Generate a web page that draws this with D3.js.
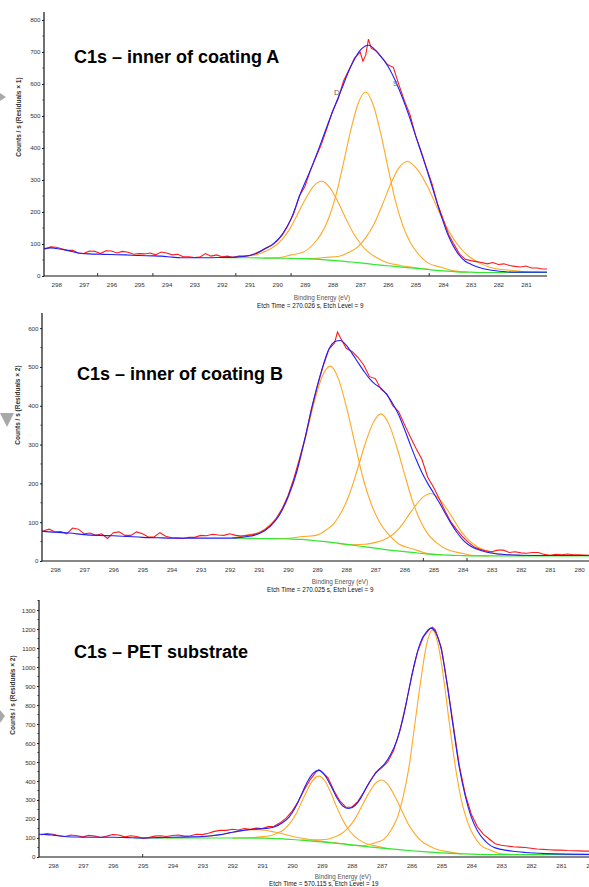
<!DOCTYPE html>
<html>
<head>
<meta charset="utf-8">
<script src="https://cdn.jsdelivr.net/npm/d3@7"></script>
<style>
  body { margin: 0; background: #fff; }
  svg { display: block; }
  text { font-family: "Liberation Sans", Arial, sans-serif; }
</style>
</head>
<body>
<svg id="chart" width="589" height="887"></svg>
<script>
// ---------- data (binding energy eV, counts/s) ----------
const ticksA = [298, 297, 296, 295, 294, 293, 292, 291, 290, 289, 288, 287, 286, 285, 284, 283, 282, 281];
const ticksB = [298, 297, 296, 295, 294, 293, 292, 291, 290, 289, 288, 287, 286, 285, 284, 283, 282, 281, 280];
const ticksC = [298, 297, 296, 295, 294, 293, 292, 291, 290, 289, 288, 287, 286, 285, 284, 283, 282, 281, 280];

// coating A
const bgA = [[292,57],[291.5,57],[291,57],[290.5,56],[290,56],[289.5,55],[289,54],[288.5,52],[288,49],[287.5,45],[287,41],[286.5,36],[286,32],[285.5,28],[285,24],[284.5,20],[284,16],[283.5,13],[283,12],[282.5,11],[282,11],[281,11],[280.24,11]];
const peakA1 = [[291.8,57.5],[291.25,62],[290.78,66],[290.4,78],[290.11,92],[289.83,114],[289.54,148],[289.26,194],[288.97,242],[288.69,280],[288.4,296],[288.11,278],[287.83,237],[287.55,185],[287.26,136],[286.98,100],[286.69,74],[286.4,57],[286.03,42],[285.55,33],[285,26],[284.5,20.5]];
const peakA2 = [[290.5,56.3],[290,57],[289.5,66],[289.05,75],[288.69,100],[288.42,130],[288.15,178],[287.88,251],[287.61,351],[287.34,456],[287.07,540],[286.8,575],[286.53,535],[286.26,447],[285.99,337],[285.72,233],[285.45,156],[285.18,104],[284.91,70],[284.55,41],[284.1,28],[283.6,16],[283.1,12.5]];
const peakA3 = [[289.3,54.8],[288.8,53.5],[288.3,58],[287.8,61],[287.4,74],[287.1,90],[286.8,120],[286.5,162],[286.2,222],[285.9,287],[285.6,338],[285.3,358],[284.93,333],[284.55,277],[284.18,207],[283.8,141],[283.43,93],[283.05,60],[282.68,41],[282.18,24],[281.55,18],[281,13],[280.5,11.5]];
const envA = [[298.44,86],[298.2,88],[298,86],[297.6,80],[297.2,72],[296.8,69],[296.4,68],[296,67],[295.5,66],[295,64],[294.5,63],[294.2,62],[293.8,59],[293.5,57],[293,57],[292.5,57],[292,58],[291.5,59],[291,64],[290.72,72],[290.5,82],[290.12,102],[289.8,133],[289.51,177],[289.15,260],[288.79,333],[288.42,416],[288.06,500],[287.7,578],[287.33,656],[286.97,708],[286.7,721],[286.36,697],[286,656],[285.64,593],[285.27,510],[284.91,416],[284.55,322],[284.18,218],[283.82,128],[283.46,70],[283.2,46],[282.98,36],[282.6,24],[282.25,18],[281.8,14],[281.42,12],[280.8,12],[280.24,12]];
const dataA = [[298.4,84],[298.2,91],[298,90],[297.8,85],[297.6,80],[297.4,80],[297.2,72],[297,70],[296.8,78],[296.6,77],[296.4,70],[296.2,79],[296,78],[295.8,72],[295.6,77],[295.4,74],[295.2,68],[295,70],[294.8,69],[294.6,72],[294.4,66],[294.2,75],[294,72],[293.8,66],[293.6,68],[293.4,60],[293.2,60],[293,58],[292.8,59],[292.6,70],[292.4,62],[292.2,66],[292,60],[291.8,62],[291.6,58],[291.4,62],[291.2,62],[291,64],[290.8,70],[290.6,78],[290.4,88],[290.2,96],[290,110],[289.8,130],[289.6,160],[289.4,196],[289.2,250],[289,280],[288.8,330],[288.6,372],[288.4,412],[288.2,462],[288,515],[287.8,553],[287.6,610],[287.4,645],[287.2,682],[287,700],[286.9,671],[286.8,690],[286.7,740],[286.6,712],[286.4,702],[286.2,680],[286,660],[285.8,652],[285.6,598],[285.4,548],[285.2,505],[285,440],[284.8,392],[284.6,338],[284.4,288],[284.2,225],[284,178],[283.8,130],[283.6,98],[283.4,68],[283.2,52],[283,48],[282.8,45],[282.6,42],[282.4,38],[282.2,42],[282,36],[281.8,38],[281.6,33],[281.4,30],[281.2,28],[281,31],[280.8,25],[280.6,25],[280.4,22],[280.24,22]];

// coating B
const bgB = [[291.9,59],[291.65,59],[291,58],[290.5,57.5],[290,57],[289.5,55.5],[289,52],[288.5,48],[288,43],[287.5,38],[287,33],[286.5,28],[286,24],[285.5,20],[285,17],[284.5,15],[284,14],[283,13],[282,13],[279.66,13]];
const peakB1 = [[291.9,60],[291.4,67],[290.93,76],[290.55,98],[290.26,123],[289.98,166],[289.7,229],[289.41,314],[289.12,403],[288.84,473],[288.55,502],[288.26,468],[287.98,393],[287.69,299],[287.41,210],[287.12,143],[286.84,98],[286.55,69],[286.18,43],[285.7,31],[285.2,19],[284.7,16]];
const peakB2 = [[290.5,58],[290,58.5],[289.5,63],[289.05,66],[288.69,80],[288.42,97],[288.15,128],[287.88,174],[287.61,237],[287.34,304],[287.07,357],[286.8,379],[286.53,352],[286.26,293],[285.99,222],[285.72,154],[285.45,103],[285.18,68],[284.91,48],[284.55,30],[284.1,21],[283.6,14],[283.1,13.2]];
const peakB3 = [[288.3,45.5],[287.8,42],[287.35,43],[286.99,48],[286.72,54],[286.45,65],[286.18,84],[285.91,112],[285.64,141],[285.37,164],[285.1,174],[284.83,162],[284.56,136],[284.29,104],[284.02,73],[283.75,51],[283.48,36],[283.21,27],[282.85,19],[282.4,16],[281.9,13.5]];
const envB = [[298.45,77],[298,74],[297.5,72],[297,68],[296.5,66],[296,65],[295.5,63],[295,61],[294.5,60],[294,59],[293.5,59],[293,59],[292.5,59],[292,59],[291.5,62],[291,70],[290.6,90],[290.3,118],[290,165],[289.7,230],[289.4,322],[289.1,420],[288.85,490],[288.6,545],[288.4,565],[288.2,568],[288,556],[287.8,535],[287.6,512],[287.4,490],[287.2,470],[287,455],[286.8,445],[286.6,428],[286.4,405],[286.2,377],[286,340],[285.8,300],[285.6,262],[285.4,228],[285.2,200],[285,175],[284.8,150],[284.6,123],[284.4,97],[284.2,74],[284,55],[283.8,42],[283.5,30],[283.2,23],[282.8,18],[282.4,16],[282,15],[281,14],[279.66,14]];
const dataB = [[298.4,78],[298.2,82],[298,75],[297.8,76],[297.6,70],[297.4,85],[297.2,82],[297,70],[296.8,72],[296.6,66],[296.4,70],[296.2,58],[296,73],[295.8,75],[295.6,66],[295.4,66],[295.2,75],[295,70],[294.8,62],[294.6,62],[294.4,73],[294.2,64],[294,60],[293.8,59],[293.6,58],[293.4,61],[293.2,61],[293,66],[292.8,65],[292.6,69],[292.4,67],[292.2,66],[292,70],[291.8,66],[291.6,64],[291.4,66],[291.2,68],[291,72],[290.8,80],[290.6,92],[290.4,110],[290.2,135],[290,168],[289.8,212],[289.6,265],[289.4,320],[289.2,390],[289,448],[288.8,500],[288.6,545],[288.4,562],[288.3,590],[288.2,575],[288,548],[287.8,540],[287.6,525],[287.4,505],[287.2,475],[287,470],[286.8,442],[286.6,430],[286.4,400],[286.2,385],[286,352],[285.8,320],[285.6,290],[285.4,262],[285.2,216],[285,190],[284.8,160],[284.6,128],[284.4,100],[284.2,80],[284,62],[283.8,48],[283.6,36],[283.4,30],[283.2,26],[283,24],[282.8,28],[282.6,28],[282.4,22],[282.2,24],[282,21],[281.8,20],[281.6,22],[281.4,22],[281.2,17],[281,15],[280.8,17],[280.6,16],[280.4,18],[280.2,16],[280,16],[279.66,15]];

// PET substrate
const bgC = [[295.3,100],[294,100],[293,100],[292,100],[291,99],[290.5,97],[290,92],[289.5,86],[289,80],[288.5,72],[288,64],[287.5,55],[287,47],[286.5,40],[286,33],[285.5,27],[285,22],[284.5,18],[284,15],[283.5,13],[283,12],[282,12],[281,12],[280.06,12]];
const peakC0 = [[294.2,101],[293.7,102],[293.3,104],[293,107],[292.7,111],[292.4,117],[292.1,126],[291.8,135],[291.5,142],[291.2,144],[290.9,141],[290.6,132],[290.3,121],[290,109],[289.7,100],[289.4,92],[289.1,85],[288.7,77],[288.2,68]];
const peakC1 = [[292,100],[291.5,101],[291.05,106],[290.73,112],[290.47,127],[290.27,145],[290.08,176],[289.88,222],[289.69,286],[289.49,352],[289.3,405],[289.1,426],[288.9,400],[288.71,342],[288.52,269],[288.32,200],[288.13,149],[287.93,113],[287.74,89],[287.48,69],[287.15,57],[286.7,42.5]];
const peakC2 = [[289.7,89.5],[289.25,90],[288.88,92],[288.58,105],[288.35,122],[288.13,152],[287.9,198],[287.68,263],[287.45,331],[287.23,384],[287,405],[286.77,377],[286.55,317],[286.32,242],[286.1,171],[285.87,118],[285.65,81],[285.42,59],[285.12,38],[284.75,27],[284.3,16.5]];
const peakC3 = [[288.2,65.5],[287.7,58],[287.25,74],[286.93,93],[286.67,146],[286.47,210],[286.28,318],[286.08,478],[285.89,699],[285.69,930],[285.5,1116],[285.3,1195],[285.1,1111],[284.91,922],[284.72,687],[284.52,462],[284.33,298],[284.13,186],[283.94,118],[283.68,61],[283.35,36],[283,17],[282.6,13]];
const envC = [[298.47,120],[298.2,118],[298,115],[297.6,108],[297.2,105],[296.8,104],[296.4,104],[296,104],[295.5,102],[295,100],[294.5,102],[294,104],[293.5,106],[293,108],[292.7,112],[292.4,118],[292.1,127],[291.8,136],[291.5,143],[291.2,147],[290.9,150],[290.6,158],[290.3,183],[290.1,210],[289.9,258],[289.7,324],[289.5,392],[289.3,440],[289.1,456],[288.9,430],[288.7,375],[288.5,312],[288.3,268],[288.1,255],[287.9,270],[287.7,310],[287.5,370],[287.3,420],[287.1,460],[286.9,490],[286.7,540],[286.5,610],[286.3,720],[286.1,870],[285.9,1020],[285.7,1130],[285.5,1185],[285.35,1205],[285.2,1185],[285,1090],[284.8,900],[284.6,680],[284.4,470],[284.2,320],[284,210],[283.8,140],[283.6,95],[283.4,65],[283.2,48],[283,40],[282.6,30],[282.2,24],[281.5,18],[280.8,15],[280.06,14]];
const dataC = [[298.4,118],[298.2,123],[298,120],[297.8,112],[297.6,108],[297.4,116],[297.2,112],[297,106],[296.8,114],[296.6,110],[296.4,103],[296.2,110],[296,118],[295.8,116],[295.6,106],[295.4,112],[295.2,108],[295,98],[294.8,102],[294.6,110],[294.4,112],[294.2,108],[294,113],[293.8,116],[293.6,110],[293.4,112],[293.2,120],[293,118],[292.8,125],[292.6,135],[292.4,140],[292.2,140],[292,146],[291.8,142],[291.6,150],[291.4,146],[291.2,152],[291,150],[290.8,160],[290.6,162],[290.4,180],[290.2,205],[290,240],[289.8,290],[289.6,352],[289.4,405],[289.2,448],[289.1,460],[289,448],[288.8,418],[288.6,350],[288.4,295],[288.2,262],[288,262],[287.8,292],[287.6,340],[287.4,395],[287.2,445],[287,470],[286.8,500],[286.6,560],[286.4,660],[286.2,795],[286,950],[285.8,1080],[285.6,1160],[285.4,1200],[285.3,1210],[285.2,1195],[285,1100],[284.8,905],[284.6,690],[284.4,480],[284.2,330],[284,225],[283.8,160],[283.6,120],[283.4,95],[283.2,70],[283,62],[282.8,58],[282.6,54],[282.4,52],[282.2,50],[282,46],[281.8,42],[281.6,40],[281.4,38],[281.2,36],[281,36],[280.8,34],[280.6,33],[280.4,32],[280.2,31],[280.06,31]];

// ---------- layout ----------
const panels = [
  {title: "C1s \u2013 inner of coating A", titleX: 74, titleY: 63,
   left: 44, right: 547, top: 12, bottom: 276, xDomain: [298.44, 280.24], yDomain: [0, 825],
   yTicks: d3.range(0, 801, 100), xTicks: ticksA, xMinor: [296.5, 294.5, 291.5, 289.5, 284.5],
   ylabel: "Counts / s  (Residuals \u00d7 1)", ylabelX: 21, ylabelY: 117,
   bx: 322, by: 300, etch: "Etch Time = 270.026 s, Etch Level = 9", ex: 257, ey: 308,
   bg: bgA, peaks: [peakA1, peakA2, peakA3], env: envA, data: dataA},
  {title: "C1s \u2013 inner of coating B", titleX: 77, titleY: 380,
   left: 42, right: 589, top: 313, bottom: 561, xDomain: [298.45, 279.66], yDomain: [0, 639],
   yTicks: d3.range(0, 601, 100), xTicks: ticksB, xMinor: [285.35, 283.85],
   ylabel: "Counts / s  (Residuals \u00d7 2)", ylabelX: 20, ylabelY: 405,
   bx: 340, by: 584, etch: "Etch Time = 270.025 s, Etch Level = 9", ex: 267, ey: 592,
   bg: bgB, peaks: [peakB1, peakB2, peakB3], env: envB, data: dataB},
  {title: "C1s \u2013 PET substrate", titleX: 74, titleY: 658,
   left: 39, right: 589, top: 600, bottom: 857, xDomain: [298.47, 280.06], yDomain: [0, 1353],
   yTicks: d3.range(0, 1301, 100), xTicks: ticksC, xMinor: [295],
   ylabel: "Counts / s  (Residuals \u00d7 2)", ylabelX: 15, ylabelY: 695,
   bx: 343, by: 879, etch: "Etch Time = 570.115 s, Etch Level = 19", ex: 269, ey: 886,
   bg: bgC, peaks: [peakC0, peakC1, peakC2, peakC3], env: envC, data: dataC}
];

const svg = d3.select("#chart");

// grey slide arrows at the left edge
svg.append("path").attr("d", "M0,93 L6,97 L0,101 Z").attr("fill", "#a8a8a8");
svg.append("path").attr("d", "M0,413 L14,413 L7,427 Z").attr("fill", "#a8a8a8");
svg.append("path").attr("d", "M0,710 L5,716 L0,723 Z").attr("fill", "#a8a8a8");

function drawPanel(p) {
  let g = svg.append("g");
  let x = d3.scaleLinear().domain(p.xDomain).range([p.left, p.right]);
  let y = d3.scaleLinear().domain(p.yDomain).range([p.bottom, p.top]);

  let line = d3.line().x(d => x(d[0])).y(d => y(d[1]));
  let smooth = d3.line().x(d => x(d[0])).y(d => y(d[1])).curve(d3.curveMonotoneX);
  let sorted = arr => arr.slice().sort((a, b) => b[0] - a[0]);

  // fitted components
  p.peaks.forEach(pk => {
    g.append("path").attr("d", smooth(sorted(pk)))
      .attr("fill", "none").attr("stroke", "#ffa826").attr("stroke-width", 1.1);
  });
  // background
  g.append("path").attr("d", smooth(sorted(p.bg)))
    .attr("fill", "none").attr("stroke", "#2fe82f").attr("stroke-width", 1.2);
  // raw data
  g.append("path").attr("d", line(sorted(p.data)))
    .attr("fill", "none").attr("stroke", "#ff1a1a").attr("stroke-width", 1.1);
  // envelope
  g.append("path").attr("d", smooth(sorted(p.env)))
    .attr("fill", "none").attr("stroke", "#1e1eff").attr("stroke-width", 1.1);

  // y axis
  let ya = g.append("g").attr("transform", "translate(" + p.left + ",0)")
    .call(d3.axisLeft(y).tickValues(p.yTicks).tickSize(2).tickPadding(1.5).tickSizeOuter(0).tickFormat(d3.format("d")));
  ya.select(".domain").remove();
  ya.selectAll("text").attr("font-size", 6.2).attr("fill", "#333").style("font-family", "'Liberation Sans', Arial, sans-serif");
  ya.selectAll("line").attr("stroke", "#222");
  g.append("line").attr("x1", p.left).attr("x2", p.left).attr("y1", p.top).attr("y2", p.bottom)
    .attr("stroke", "#111").attr("stroke-width", 1.2);

  // minor y ticks
  let minor = d3.range(50, p.yDomain[1], 100);
  g.selectAll(".ymin").data(minor).join("line")
    .attr("x1", p.left - 1.5).attr("x2", p.left).attr("y1", d => y(d)).attr("y2", d => y(d))
    .attr("stroke", "#333");

  // x axis
  let xa = g.append("g").attr("transform", "translate(0," + p.bottom + ")")
    .call(d3.axisBottom(x).tickValues(p.xTicks).tickSize(0).tickPadding(7).tickFormat(d3.format("d")));
  xa.select(".domain").remove();
  xa.selectAll("text").attr("font-size", 6.2).attr("fill", "#333").style("font-family", "'Liberation Sans', Arial, sans-serif");
  g.append("line").attr("x1", p.left).attr("x2", p.right).attr("y1", p.bottom).attr("y2", p.bottom)
    .attr("stroke", "#111").attr("stroke-width", 1.2);
  g.selectAll(".xmin").data(p.xMinor).join("line")
    .attr("x1", d => x(d)).attr("x2", d => x(d)).attr("y1", p.bottom).attr("y2", p.bottom - 3)
    .attr("stroke", "#333");

  // labels
  g.append("text").attr("x", p.titleX).attr("y", p.titleY)
    .attr("font-size", 18).attr("font-weight", "bold").attr("fill", "#000").text(p.title);
  g.append("text").attr("transform", "translate(" + p.ylabelX + "," + p.ylabelY + ") rotate(-90)")
    .attr("text-anchor", "middle").attr("font-size", 6.5).attr("font-weight", "bold")
    .attr("fill", "#333").text(p.ylabel);
  g.append("text").attr("x", p.bx).attr("y", p.by).attr("text-anchor", "middle")
    .attr("font-size", 6.3).attr("fill", "#555").text("Binding Energy (eV)");
  g.append("text").attr("x", p.ex).attr("y", p.ey)
    .attr("font-size", 6.3).attr("fill", "#111").text(p.etch);
}

panels.forEach(drawPanel);

// small component markers in the first panel
svg.append("text").attr("x", 334).attr("y", 95).attr("font-size", 8).attr("fill", "#666").text("D");
svg.append("text").attr("x", 393).attr("y", 86).attr("font-size", 7).attr("fill", "#666").text("S");
</script>
</body>
</html>
